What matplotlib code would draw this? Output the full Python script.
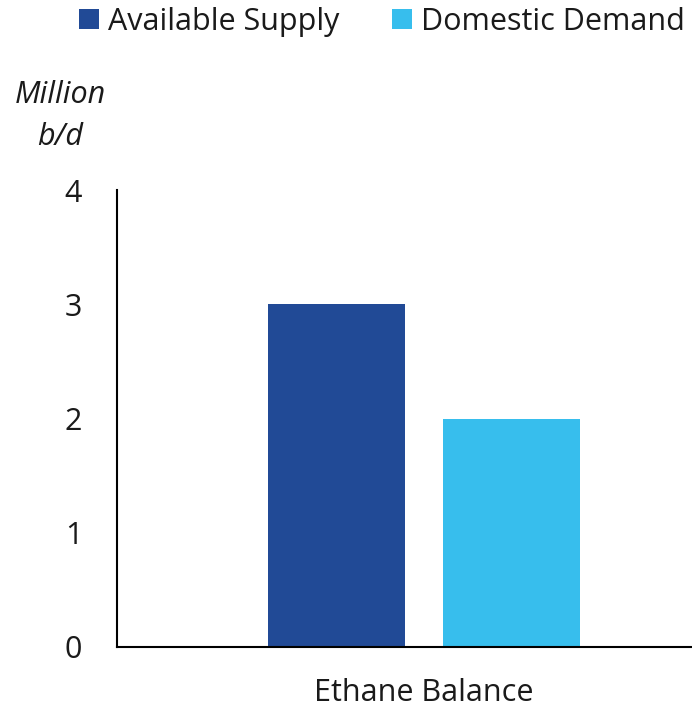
import matplotlib
matplotlib.use("Agg")
import matplotlib.pyplot as plt

# data
categories = ["Ethane Balance"]
series_names = ["Available Supply", "Domestic Demand"]
supply = [3.0]
demand = [2.0]
y_ticks = [0, 1, 2, 3, 4]

colors = ["#214A96", "#37BEED"]

plt.rcParams["font.family"] = ["Open Sans", "DejaVu Sans"]

fig = plt.figure(figsize=(6.92, 7.10), dpi=100)
ax = fig.add_axes([117 / 692, 63 / 710, 575 / 692, 457 / 710])

width = 0.35
offset = 0.224
x = list(range(len(categories)))
b1 = ax.bar([i - offset for i in x], supply, width, color=colors[0], label=series_names[0])
b2 = ax.bar([i + offset for i in x], demand, width, color=colors[1], label=series_names[1])

ax.set_xlim(-0.785, 0.685)
ax.set_ylim(0, 4)
ax.set_yticks(y_ticks)
ax.set_xticks(x)
ax.set_xticklabels(categories)
ax.tick_params(axis="both", length=0, labelsize=22, colors="#1a1a1a")
ax.tick_params(axis="y", pad=25)
ax.tick_params(axis="x", pad=22)

for side in ["top", "right"]:
    ax.spines[side].set_visible(False)
for side in ["left", "bottom"]:
    ax.spines[side].set_linewidth(1.5)
    ax.spines[side].set_color("black")

# unit label above axis
fig.text(60 / 692, 1 - 95 / 710, "Million", fontsize=22, style="italic",
         ha="center", va="center", color="#1a1a1a")
fig.text(60 / 692, 1 - 137 / 710, "b/d", fontsize=22, style="italic",
         ha="center", va="center", color="#1a1a1a")

leg = fig.legend(handles=[b1, b2], loc="center", bbox_to_anchor=(382 / 692, 1 - 22 / 710),
                 ncol=2, frameon=False, fontsize=22, handlelength=0.65, handleheight=0.65,
                 handletextpad=0.3, columnspacing=1.7, borderaxespad=0)
for t in leg.get_texts():
    t.set_color("#1a1a1a")

fig.savefig("out.png", dpi=100)
